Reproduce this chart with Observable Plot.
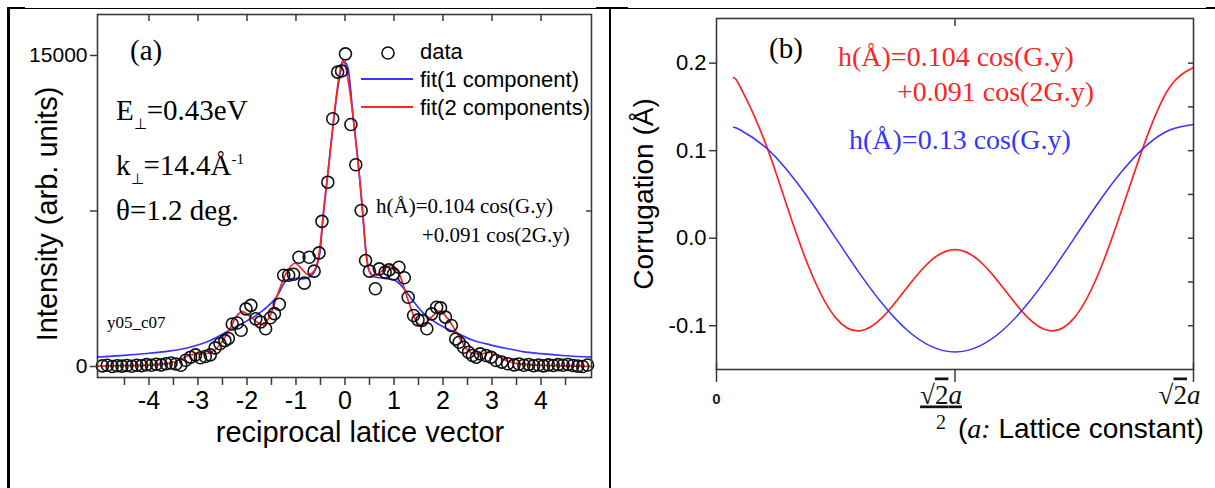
<!DOCTYPE html>
<html><head><meta charset="utf-8">
<script src="https://cdn.jsdelivr.net/npm/d3@7"></script>
<script src="https://cdn.jsdelivr.net/npm/@observablehq/plot@0.6"></script>
<style>
body{margin:0;background:#fff;}
#wrap{position:relative;width:1215px;height:488px;overflow:hidden;background:#fff;}
#wrap svg{position:absolute;top:0;}
.bd{position:absolute;background:#000;}
</style></head><body><div id="wrap"></div>
<script>
// ---------- Panel (a): measured intensity ----------
const dataX = [-4.95,-4.85,-4.75,-4.65,-4.55,-4.45,-4.35,-4.25,-4.15,-4.05,-3.95,-3.85,-3.75,-3.65,-3.55,-3.45,-3.35,-3.25,-3.15,-3.05,-2.95,-2.85,-2.75,-2.65,-2.55,-2.45,-2.38,-2.3,-2.2,-2.12,-2.02,-1.92,-1.82,-1.72,-1.62,-1.52,-1.44,-1.34,-1.25,-1.15,-1.05,-0.94,-0.83,-0.73,-0.63,-0.53,-0.47,-0.35,-0.25,-0.15,-0.07,0.01,0.12,0.22,0.33,0.42,0.5,0.62,0.7,0.82,0.9,0.99,1.1,1.21,1.29,1.4,1.49,1.57,1.67,1.77,1.87,1.95,2.05,2.17,2.26,2.33,2.42,2.52,2.6,2.68,2.76,2.88,2.98,3.08,3.2,3.32,3.45,3.55,3.65,3.75,3.85,3.95,4.05,4.15,4.25,4.35,4.45,4.55,4.65,4.75,4.85,4.95];
const dataY = [30,60,0,40,20,50,10,60,40,90,60,110,80,130,170,120,60,300,450,560,420,480,560,900,1100,1250,1350,2050,2100,1750,2780,2950,2300,2150,1820,2350,2550,3000,4400,4400,4450,5270,4020,5270,4600,5480,7000,8890,11950,14200,14250,15080,11670,9730,7525,5110,4600,3750,4710,4550,4660,4470,4790,4280,3340,2460,2250,2220,1820,2540,2860,2830,2380,1980,1330,1170,930,690,530,450,610,530,450,290,210,130,80,120,60,100,40,70,30,80,50,90,60,100,50,20,0,70];
// fit (1 component) - blue
const fit1X = [-5.05,-4.5,-4.0,-3.6,-3.16,-2.75,-2.34,-2.0,-1.66,-1.39,-1.19,-1.0,-0.85,-0.7,-0.58,-0.5,-0.45,-0.35,-0.23,-0.1,-0.02,0.06,0.17,0.29,0.36,0.42,0.5,0.6,0.8,1.0,1.15,1.32,1.6,1.9,2.28,2.6,2.96,3.3,3.63,4.0,4.5,5.03];
const fit1Y = [450,540,640,740,930,1250,1770,2200,2730,3380,4150,4250,4230,4350,4820,5700,7200,9300,11900,14100,14700,14400,11950,9300,7400,5700,4600,4330,4250,4180,3900,3380,2570,2050,1610,1280,1045,870,720,620,520,450];
// fit (2 components) - red
const fit2X = [-5.05,-4.5,-4.0,-3.6,-3.4,-3.2,-3.0,-2.8,-2.62,-2.48,-2.35,-2.22,-2.1,-1.95,-1.8,-1.67,-1.52,-1.39,-1.2,-1.02,-0.88,-0.75,-0.62,-0.52,-0.45,-0.35,-0.23,-0.12,-0.04,0.05,0.17,0.29,0.36,0.42,0.48,0.58,0.75,0.94,1.1,1.29,1.45,1.57,1.75,1.93,2.1,2.29,2.48,2.65,2.8,3.0,3.15,3.28,3.5,3.67,4.0,4.5,5.03];
const fit2Y = [20,40,70,150,300,520,610,640,880,1300,1800,2400,2650,2450,2150,2010,2500,3380,4500,4980,4700,4420,4650,5600,7100,9300,11960,14000,14800,14000,11960,9300,7520,5700,4700,4330,4600,4870,4500,3180,2200,1980,2350,2670,2300,1580,850,620,620,690,480,290,150,100,60,30,0];
const xTicksA = [-4,-3,-2,-1,0,1,2,3,4];
const xMinorA = [-4.5,-4,-3.5,-3,-2.5,-2,-1.5,-1,-0.5,0,0.5,1,1.5,2,2.5,3,3.5,4,4.5];
const yTicksA = [0,7500,15000];
const yLabelsA = [0,15000];

// ---------- Panel (b): corrugation profiles ----------
const posB = [0.036,0.05,0.1,0.15,0.2,0.25,0.3,0.35,0.4,0.45,0.5,0.55,0.6,0.65,0.7,0.75,0.8,0.85,0.9,0.95,1.0];
const corrRed = [0.1832,0.1725,0.1123,0.0330,-0.0415,-0.0910,-0.1058,-0.0893,-0.0560,-0.0253,-0.0130,-0.0253,-0.0560,-0.0893,-0.1058,-0.0910,-0.0415,0.0330,0.1123,0.1725,0.1950];
const corrBlue = [0.1267,0.1236,0.1052,0.0764,0.0402,0.0,-0.0402,-0.0764,-0.1052,-0.1236,-0.1300,-0.1236,-0.1052,-0.0764,-0.0402,0.0,0.0402,0.0764,0.1052,0.1236,0.1300];
const yTicksB = [-0.1,0,0.1,0.2];
const yMinorB = [-0.1,-0.05,0,0.05,0.1,0.15,0.2];
const xTicksB = [0,0.5,1];
const xLabelsB = ["0","√2a","√2a"];

// ---------- build ----------
const SANS = "Liberation Sans, Arial, sans-serif";
const SERIF = "Liberation Serif, Times New Roman, serif";
const RED = "#ff2424", BLUE = "#3535ff", AX = "#3a3a3a";
const hy = d => String(d).replace("\u2212","-");

const dataA = dataX.map((x,i)=>({x, y:dataY[i]}));
const f1 = fit1X.map((x,i)=>({x, y:fit1Y[i]}));
const f2 = fit2X.map((x,i)=>({x, y:fit2Y[i]}));

const A = Plot.plot({
  width: 605, height: 488,
  marginLeft: 97, marginRight: 14, marginTop: 14, marginBottom: 111,
  x: {domain: [-5.05, 5.03], label: null},
  y: {domain: [-530, 16977], label: null},
  style: {fontFamily: SANS, color: "#000", background: "transparent", overflow: "visible"},
  marks: [
    Plot.line(f1, {x: "x", y: "y", stroke: BLUE, strokeWidth: 1.7, curve: "monotone-x"}),
    Plot.line(f2, {x: "x", y: "y", stroke: RED, strokeWidth: 1.7, curve: "monotone-x"}),
    Plot.dot(dataA, {x: "x", y: "y", r: 6, stroke: "#111", strokeWidth: 1.6, fill: "none"}),
    Plot.frame({stroke: AX, strokeWidth: 1.6}),
    Plot.axisY({anchor: "left", ticks: yTicksA, tickFormat: d => yLabelsA.includes(d) ? String(d) : "", tickSize: 7, tickPadding: 3, fontSize: 21, stroke: AX, strokeWidth: 1.5, label: null}),
    Plot.axisY({anchor: "right", ticks: [7500], tickFormat: () => "", tickSize: -6, stroke: AX, strokeWidth: 1.5, label: null}),
    Plot.axisX({anchor: "bottom", ticks: xMinorA, tickFormat: d => xTicksA.includes(d) ? hy(d) : "", tickSize: 8, tickPadding: 6, fontSize: 25, stroke: AX, strokeWidth: 1.5, label: null}),
    Plot.axisX({anchor: "top", ticks: xTicksA, tickFormat: () => "", tickSize: -6, stroke: AX, strokeWidth: 1.5, label: null})
  ]
});
A.style.left = "0px";

const corr = posB.map((x,i)=>({x, red: corrRed[i], blue: corrBlue[i]}));
const labB = xTicksB.map((x,i)=>({x, t: xLabelsB[i]}));
const B = Plot.plot({
  width: 603, height: 488,
  marginLeft: 104, marginRight: 22, marginTop: 18, marginBottom: 119,
  x: {domain: [0, 1], label: null},
  y: {domain: [-0.150, 0.251], label: null},
  style: {fontFamily: SANS, color: "#000", background: "transparent", overflow: "visible"},
  marks: [
    Plot.line(corr, {x: "x", y: "red", stroke: RED, strokeWidth: 1.7, curve: "natural"}),
    Plot.line(corr, {x: "x", y: "blue", stroke: BLUE, strokeWidth: 1.5, curve: "natural"}),
    Plot.frame({stroke: AX, strokeWidth: 1.6}),
    Plot.axisY({anchor: "left", ticks: yTicksB, tickFormat: d => d.toFixed(1), tickSize: 7, tickPadding: 3, fontSize: 22, stroke: AX, strokeWidth: 1.5, label: null}),
    Plot.axisY({anchor: "right", ticks: yMinorB, tickFormat: () => "", tickSize: -6, stroke: AX, strokeWidth: 1.5, label: null}),
    Plot.axisX({anchor: "bottom", ticks: xTicksB, tickFormat: () => "", tickSize: 13, stroke: AX, strokeWidth: 1.5, label: null}),
    Plot.axisX({anchor: "bottom", ticks: [0, 1], tickFormat: () => "", tickSize: -6, stroke: AX, strokeWidth: 1.5, label: null}),
    Plot.axisX({anchor: "top", ticks: [0.5], tickFormat: () => "", tickSize: -7, stroke: AX, strokeWidth: 1.5, label: null}),
    Plot.text(labB.slice(0,1), {x: "x", text: "t", frameAnchor: "bottom", lineAnchor: "bottom", dy: 34, fontSize: 15, fontWeight: "bold", fill: "#222"}),
    Plot.text(labB.slice(1), {x: "x", text: "t", frameAnchor: "bottom", lineAnchor: "bottom", dy: 34, dx: -14, fontSize: 27, fontFamily: SERIF, fill: "#111"}),
    Plot.text(labB.slice(1,2), {x: "x", text: () => "2", frameAnchor: "bottom", lineAnchor: "bottom", dy: 59, dx: -14, fontSize: 20, fontFamily: SERIF, fill: "#111"})
  ]
});
B.style.left = "612px";

// style the radical labels: overline the radicand, italic 'a'; underline middle as fraction bar
d3.select(B).selectAll("text").filter(function(){ return this.textContent === "√2a"; }).each(function(d, i){
  const t = d3.select(this);
  t.text(null);
  t.append("tspan").text("√");
  t.append("tspan").style("text-decoration", "overline").text("2");
  t.append("tspan").style("font-style", "italic").text("a");
  if (i === 0) t.style("text-decoration", "underline");
});

const wrap = document.getElementById("wrap");
wrap.appendChild(A);
wrap.appendChild(B);

// ---------- overlay annotations ----------
const ov = d3.create("svg").attr("width", 1215).attr("height", 488).style("left", "0px");
function txt(x, y, s, size, fam, opts = {}) {
  const t = ov.append("text").attr("x", x).attr("y", y).attr("font-size", size).attr("font-family", fam).attr("fill", opts.fill || "#000");
  if (opts.anchor) t.attr("text-anchor", opts.anchor);
  if (opts.rotate) t.attr("transform", `rotate(-90 ${x} ${y})`);
  if (s != null) t.text(s);
  return t;
}
// panel (a)
txt(130, 60, "(a)", 29, SERIF);
let t = txt(116, 120, null, 29, SERIF);
t.append("tspan").text("E");
t.append("tspan").attr("font-size", 15).attr("dy", 9).text("⊥");
t.append("tspan").attr("dy", -9).text("=0.43eV");
t = txt(116, 175, null, 29, SERIF);
t.append("tspan").text("k");
t.append("tspan").attr("font-size", 15).attr("dy", 9).text("⊥");
t.append("tspan").attr("dy", -9).text("=14.4Å");
t.append("tspan").attr("font-size", 15).attr("dy", -11).text("-1");
txt(116, 220, "θ=1.2 deg.", 29, SERIF);
txt(107, 328, "y05_c07", 17, SERIF);
txt(376, 213, "h(Å)=0.104 cos(G.y)", 21, SERIF);
txt(422, 242, "+0.091 cos(2G.y)", 21, SERIF);
// legend (a)
ov.append("circle").attr("cx", 388).attr("cy", 53).attr("r", 6).attr("fill", "none").attr("stroke", "#111").attr("stroke-width", 1.6);
txt(420, 59, "data", 22, SANS);
ov.append("line").attr("x1", 361).attr("x2", 413).attr("y1", 79).attr("y2", 79).attr("stroke", BLUE).attr("stroke-width", 1.8);
txt(420, 87, "fit(1 component)", 22, SANS);
ov.append("line").attr("x1", 361).attr("x2", 413).attr("y1", 107).attr("y2", 107).attr("stroke", RED).attr("stroke-width", 1.8);
txt(420, 115, "fit(2 components)", 22, SANS);
// axis titles (a)
txt(57, 214, "Intensity (arb. units)", 29, SANS, {anchor: "middle", rotate: true});
txt(360, 442, "reciprocal latice vector", 29, SANS, {anchor: "middle"});
// panel (b)
txt(769, 58, "(b)", 29, SERIF);
txt(838, 66, "h(Å)=0.104 cos(G.y)", 28, SERIF, {fill: RED});
txt(897, 101, "+0.091 cos(2G.y)", 28, SERIF, {fill: RED});
txt(849, 149, "h(Å)=0.13 cos(G.y)", 28, SERIF, {fill: BLUE});
txt(653, 194, "Corrugation (Å)", 28, SANS, {anchor: "middle", rotate: true});
t = txt(958, 438, null, 28, SANS);
t.append("tspan").text("(");
t.append("tspan").attr("font-family", SERIF).attr("font-style", "italic").text("a:");
t.append("tspan").text(" Lattice constant)");
wrap.appendChild(ov.node());

// ---------- table borders ----------
function bd(l, tp, w, h) { const d = document.createElement("div"); d.className = "bd"; Object.assign(d.style, {left: l+"px", top: tp+"px", width: w+"px", height: h+"px"}); wrap.appendChild(d); }
bd(7, 8, 1208, 1);
bd(7, 7, 18, 2); bd(596, 7, 32, 2); bd(1206, 7, 9, 2);
bd(7, 8, 2.5, 480);
bd(608.5, 8, 2.5, 480);
</script>
</body></html>
